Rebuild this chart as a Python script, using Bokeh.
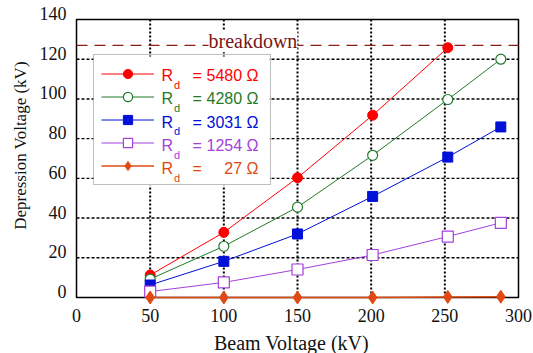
import math
from bokeh.plotting import figure
from bokeh.models import Range1d, Legend, LegendItem, Label, BoxAnnotation
from bokeh.embed import file_html
from bokeh.resources import INLINE

# ---- data ----
beam_kv = [50, 100, 150, 201, 252, 288]
rd_5480 = [11.3, 32.8, 60.3, 91.8, 125.8]
rd_4280 = [9.3, 25.8, 45.5, 71.6, 99.7, 120.0]
rd_3031 = [6.3, 18.2, 32.0, 50.9, 70.7, 85.9]
rd_1254 = [3.0, 7.6, 14.1, 21.4, 30.7, 37.6]
rd_27 = [0.0, 0.0, 0.0, 0.0, 0.3, 0.4]
breakdown_kv = 127
legend_names = ["5480", "4280", "3031", "1254", "27"]
x_ticks = [0, 50, 100, 150, 200, 250, 300]
y_ticks = [0, 20, 40, 60, 80, 100, 120, 140]
x_title = "Beam Voltage (kV)"
y_title = "Depression Voltage (kV)"

RED = "#ff0000"
GREEN = "#1f7a2a"
BLUE = "#0010d8"
PURPLE = "#a440dc"
ORANGE = "#e04a12"
colors = [RED, GREEN, BLUE, PURPLE, ORANGE]
SERIF = "Liberation Serif"
SANS = "Liberation Sans"
TXT = "#111111"

W, H = 533, 353
# plot-area edges in the picture (pixels)
PL, PR, PT, PB = 76, 518, 19, 297


def X(px):
    return x_ticks[0] + (px - PL) * (x_ticks[-1] - x_ticks[0]) / (PR - PL)


def Y(py):
    return y_ticks[0] + (PB - py) * (y_ticks[-1] - y_ticks[0]) / (PB - PT)


# the frame covers the whole canvas so that no text is clipped
p = figure(width=W, height=H, output_backend="svg", toolbar_location=None,
           x_range=Range1d(X(0), X(W)), y_range=Range1d(Y(H), Y(0)),
           x_axis_location=None, y_axis_location=None,
           min_border=0, min_border_left=0, min_border_right=0,
           min_border_top=0, min_border_bottom=0)
p.grid.visible = False
p.outline_line_color = None
p.background_fill_color = "white"
p.border_fill_color = "white"

x0, x1 = x_ticks[0], x_ticks[-1]
y0, y1 = y_ticks[0], y_ticks[-1]
xin = x_ticks[1:-1]
yin = y_ticks[1:-1]

# grid
p.segment(x0=xin, y0=[y0] * len(xin), x1=xin, y1=[y1] * len(xin),
          line_color="black", line_width=2, line_dash="2 2")
p.segment(x0=[x0] * len(yin), y0=yin, x1=[x1] * len(yin), y1=yin,
          line_color="black", line_width=1.4, line_dash="3 2")
# plot box
p.quad(left=[x0], right=[x1], bottom=[y0], top=[y1], fill_color=None,
       line_color="black", line_width=1.5)


def serif_label(x, y, text, size, align="center", angle=0.0, y_offset=0, color=TXT):
    return Label(x=x, y=y, text=text, text_font=SERIF, text_font_size=size,
                 text_color=color, text_align=align, text_baseline="middle",
                 angle=angle, y_offset=y_offset,
                 background_fill_color="white", background_fill_alpha=0)


# tick labels and axis titles
for t in x_ticks:
    p.add_layout(serif_label(t, Y(315), str(t), "18px"))
for t in y_ticks:
    p.add_layout(serif_label(X(66), t, str(t), "18px", align="right", y_offset=6))
p.add_layout(serif_label(X(291), Y(342), x_title, "20px"))
p.add_layout(serif_label(X(20), Y(145), y_title, "17px", angle=math.pi / 2))

# breakdown line
p.segment(x0=[x0], y0=[breakdown_kv], x1=[x1], y1=[breakdown_kv], line_color="#8b1c1c",
          line_dash="11 7", line_width=1.3)
p.add_layout(Label(x=X(208), y=breakdown_kv, text="breakdown", text_font=SERIF,
                   text_font_size="20px", text_color="#7a1515", text_baseline="middle",
                   background_fill_color="white", y_offset=4))

# series
r1l = p.line(beam_kv[:5], rd_5480, color=RED, line_width=1)
r1m = p.scatter(beam_kv[:5], rd_5480, marker="circle", size=10, color=RED)
r2l = p.line(beam_kv, rd_4280, color=GREEN, line_width=1)
r2m = p.scatter(beam_kv, rd_4280, marker="circle", size=10, line_color=GREEN,
                fill_color="white", line_width=1.2)
r3l = p.line(beam_kv, rd_3031, color=BLUE, line_width=1)
r3m = p.scatter(beam_kv, rd_3031, marker="square", size=10, color=BLUE)
r4l = p.line(beam_kv, rd_1254, color=PURPLE, line_width=1)
r4m = p.scatter(beam_kv, rd_1254, marker="square", size=11, line_color=PURPLE,
                fill_color="white", line_width=1.2)
r5l = p.line(beam_kv, rd_27, color=ORANGE, line_width=1.5)
r5m = p.scatter(beam_kv, rd_27, marker="diamond", size=13, color=ORANGE)

# white backing for the legend (drawn under the legend texts)
p.add_layout(BoxAnnotation(left=X(93), right=X(269), top=Y(56), bottom=Y(185),
                           fill_color="white", fill_alpha=1, line_color=None,
                           level="annotation"))

baselines = [75, 98.3, 121.6, 145, 168.3]
for name, c, by in zip(legend_names, colors, baselines):
    for px, dy, txt, fs, align in ((161, 0, "R", "16px", "left"),
                                   (173.5, 9, "d", "11px", "left"),
                                   (192, 0, "=", "16px", "left"),
                                   (258, 0, name + " \u03a9", "16px", "right")):
        p.add_layout(Label(x=X(px), y=Y(by + dy), text=txt, text_color=c, text_font=SANS,
                           text_font_size=fs, text_baseline="alphabetic", text_align=align))

items = [LegendItem(label=" ", renderers=[l, m]) for l, m in
         ((r1l, r1m), (r2l, r2m), (r3l, r3m), (r4l, r4m), (r5l, r5m))]
legend = Legend(items=items, location=(93, H - 185), margin=0, padding=7, spacing=0,
                glyph_width=53, glyph_height=23, label_height=23, label_width=104,
                label_standoff=5, border_line_color="#808080", border_line_width=1.5,
                background_fill_alpha=0, label_text_font_size="1px")
p.add_layout(legend, "center")

open("out.html", "w").write(file_html(p, INLINE))
